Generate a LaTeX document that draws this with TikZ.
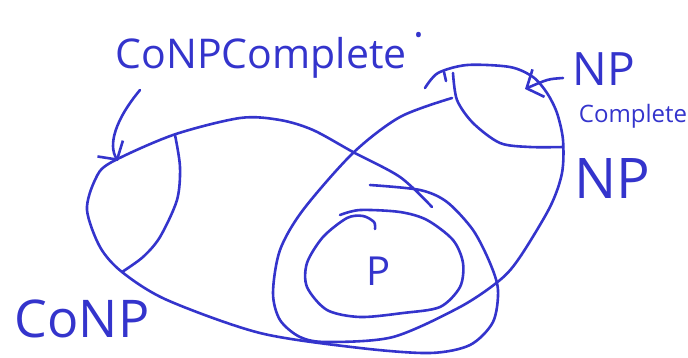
\documentclass[tikz,border=0pt]{standalone}
\usepackage{fontspec}
\setmainfont{Open Sans}
\usepackage{tikz}
\usetikzlibrary{arrows.meta}
\definecolor{ink}{RGB}{52,52,204}

\begin{document}
\begin{tikzpicture}[x=1pt,y=-1pt,
    pen/.style={draw=ink, line width=2.6pt, line cap=round, line join=round},
    barb/.style={pen, -{Straight Barb[length=13pt,width=30pt]}},
    hand/.style={text=ink, inner sep=0pt, anchor=base}]
  \useasboundingbox (0,0) rectangle (688,357);
  % CoNP oval, wraps round P at the end
  \draw[pen] plot[smooth] coordinates {(432,207) (400,177) (353,152) (313,130) (280,120) (240,118) (173,135) (110,163) (95,180) (87,210) (100,247) (122,272) (167,300) (260,333) (360,348) (430,353) (470,345) (493,322) (498,290) (490,263) (473,230) (447,202) (420,190) (370,185)};
  % CoNP complete part
  \draw[pen] plot[smooth] coordinates {(175,135) (180,167) (177,200) (160,237) (143,257) (122,272)};
  % NP oval
  \draw[pen] plot[smooth] coordinates {(425,88) (438,73) (467,65) (510,67) (533,77) (547,93) (557,113) (563,140) (562,173) (550,207) (520,257) (500,280) (460,307) (393,337) (327,342) (300,337) (280,320) (273,293) (280,250) (303,210) (353,153) (400,117) (452,98)};
  % NP complete part
  \draw[pen] plot[smooth] coordinates {(453,73) (457,100) (473,123) (500,143) (530,147) (563,147)};
  \draw[pen] (444,72) -- (446,81);
  % P
  \draw[pen] plot[smooth] coordinates {(375,229) (374,222) (363,216) (347,218) (323,237) (307,263) (307,287) (327,310) (360,317) (403,313) (440,307) (460,287) (463,263) (453,240) (427,220) (400,212) (360,210) (340,215)};

  \node[hand, font=\fontsize{41}{41}\selectfont] (conpc) at (270,68) {CoNPComplete\,\raisebox{0.45em}{·}};
  \node[hand, font=\fontsize{52}{52}\selectfont] (conp) at (82,337) {CoNP};
  \node[hand, font=\fontsize{46}{46}\selectfont] (npc) at (604,85) {NP};
  \node[hand, font=\fontsize{24}{24}\selectfont] (compl) at (633,122) {Complete};
  \node[hand, font=\fontsize{56}{56}\selectfont] (np) at (612,198) {NP};
  \node[hand, font=\fontsize{40}{40}\selectfont] (p) at (379,285) {P};

  \coordinate (conpctail) at (140,90);
  \coordinate (conpctip) at (118,161);
  \coordinate (npctail) at (563,78);
  \coordinate (npctip) at (525,89);
  \draw[barb] (conpctail) .. controls (115,120) and (108,145) .. (conpctip);
  \draw[barb] (npctail) .. controls (548,79) .. (npctip);
\end{tikzpicture}
\end{document}
